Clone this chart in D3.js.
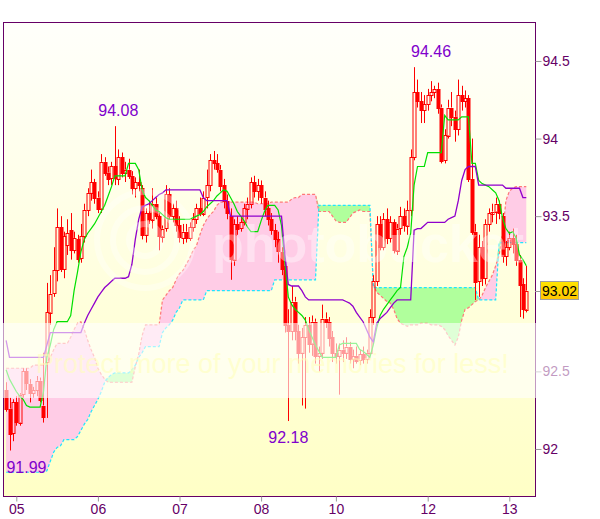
<!DOCTYPE html>
<html><head><meta charset="utf-8">
<script src="https://cdn.jsdelivr.net/npm/d3@7"></script>
<style>html,body{margin:0;padding:0;background:#fff;}svg{display:block;}</style>
</head><body><svg id="c" width="600" height="519"></svg>
<script>
// ---- data ----
const dateLabels = ["05","06","07","08","10","12","13"];
const dateIdx = [3,27,51,75,97,124,148];
const yTicks = [92, 92.5, 93.5, 94, 94.5];
const lastPrice = 93.02;
const annIdx = [6, 33, 83, 125];
const annVal = [91.99, 94.08, 92.18, 94.46];
const annType = ["low","high","low","high"];

const open = [92.38,92.26,92.10,92.30,92.17,92.35,92.50,92.42,92.36,92.38,92.44,92.28,92.56,92.88,93.00,93.15,93.43,93.16,93.31,93.41,
93.28,93.35,93.23,93.37,93.54,93.65,93.72,93.62,93.55,93.85,93.78,93.74,93.82,93.74,93.88,93.78,93.80,93.76,93.68,93.72,
93.68,93.38,93.52,93.48,93.58,93.50,93.37,93.42,93.64,93.50,93.55,93.44,93.36,93.40,93.36,93.43,93.48,93.55,93.52,93.62,
93.70,93.86,93.84,93.80,93.70,93.60,93.50,93.22,93.45,93.42,93.46,93.55,93.58,93.72,93.66,93.70,93.62,93.55,93.48,93.41,
93.35,93.27,93.18,92.80,92.76,92.95,92.76,92.62,92.72,92.80,92.68,92.82,92.60,92.62,92.84,92.82,92.72,92.62,92.60,92.64,
92.62,92.66,92.58,92.60,92.57,92.61,92.58,92.62,92.85,93.08,93.45,93.30,93.48,93.36,93.46,93.28,93.42,93.50,93.44,93.54,
93.88,94.30,94.24,94.18,94.22,94.28,94.30,94.32,94.20,93.86,94.02,94.20,94.14,94.06,94.28,94.24,94.26,93.74,93.40,93.08,
93.30,93.10,93.45,93.52,93.53,93.58,93.50,93.24,93.30,93.36,93.32,93.22,93.06,92.90];
const high = [92.43,92.33,92.32,92.34,92.36,92.52,92.52,92.45,92.40,92.47,92.46,92.62,93.07,93.12,93.30,93.55,93.50,93.40,93.48,93.52,
93.40,93.38,93.45,93.58,93.68,93.80,93.74,93.66,93.90,93.88,93.82,93.85,94.08,93.93,93.91,93.85,93.87,93.79,93.75,93.80,
93.70,93.55,93.60,93.68,93.62,93.52,93.44,93.70,93.68,93.58,93.60,93.50,93.45,93.45,93.46,93.52,93.58,93.62,93.66,93.80,
93.90,93.92,93.90,93.83,93.74,93.64,93.55,93.48,93.50,93.50,93.58,93.62,93.75,93.76,93.74,93.73,93.66,93.60,93.52,93.45,
93.40,93.30,93.22,92.90,93.05,92.98,92.80,92.78,92.85,92.85,92.86,92.84,92.66,92.93,92.88,92.85,92.76,92.68,92.68,92.70,
92.72,92.69,92.64,92.66,92.64,92.66,92.64,92.90,93.12,93.50,93.50,93.52,93.55,93.50,93.48,93.45,93.56,93.55,93.60,93.93,
94.46,94.38,94.30,94.28,94.32,94.37,94.34,94.36,94.22,94.06,94.25,94.30,94.18,94.38,94.34,94.31,94.28,94.00,93.45,93.38,
93.34,93.48,93.55,93.58,93.62,93.60,93.52,93.34,93.40,93.42,93.38,93.25,93.10,93.18];
const low = [92.24,91.99,92.05,92.15,92.15,92.33,92.38,92.30,92.33,92.34,92.30,92.17,92.20,92.80,92.98,93.08,93.14,93.10,93.25,93.22,
93.26,93.20,93.20,93.33,93.50,93.60,93.58,93.52,93.52,93.76,93.70,93.70,93.70,93.70,93.75,93.72,93.74,93.64,93.62,93.66,
93.35,93.33,93.45,93.42,93.48,93.28,93.33,93.40,93.48,93.46,93.40,93.33,93.32,93.33,93.34,93.40,93.45,93.50,93.50,93.55,
93.66,93.80,93.78,93.66,93.55,93.48,93.09,93.18,93.38,93.40,93.44,93.48,93.55,93.62,93.60,93.58,93.50,93.44,93.38,93.30,
93.20,93.12,92.75,92.18,92.70,92.70,92.55,92.28,92.26,92.62,92.60,92.55,92.50,92.58,92.78,92.66,92.56,92.55,92.35,92.56,
92.58,92.55,92.52,92.55,92.54,92.55,92.55,92.60,92.80,93.05,93.28,93.28,93.32,93.33,93.26,93.25,93.38,93.40,93.38,93.50,
93.86,94.20,94.10,94.10,94.18,94.24,94.26,94.16,93.84,93.84,94.00,94.08,93.98,94.02,94.18,94.20,93.72,93.38,92.96,92.98,
93.05,93.06,93.40,93.46,93.45,93.48,93.20,93.18,93.28,93.26,93.18,92.85,92.84,92.88];
const close = [92.26,92.10,92.30,92.17,92.35,92.50,92.42,92.36,92.38,92.44,92.32,92.21,92.88,93.00,93.15,93.43,93.16,93.37,93.39,93.28,
93.36,93.22,93.37,93.54,93.65,93.72,93.62,93.55,93.85,93.78,93.74,93.82,93.74,93.88,93.78,93.80,93.76,93.68,93.72,93.70,
93.38,93.52,93.48,93.58,93.50,93.37,93.42,93.64,93.50,93.55,93.44,93.36,93.40,93.36,93.43,93.48,93.55,93.52,93.62,93.70,
93.86,93.84,93.80,93.70,93.60,93.52,93.22,93.45,93.42,93.46,93.55,93.58,93.72,93.66,93.70,93.62,93.55,93.48,93.41,93.35,
93.27,93.16,92.80,92.76,92.95,92.76,92.62,92.72,92.80,92.68,92.82,92.60,92.62,92.84,92.82,92.72,92.62,92.60,92.64,92.62,
92.66,92.58,92.60,92.57,92.61,92.58,92.62,92.85,93.08,93.45,93.30,93.48,93.36,93.46,93.28,93.42,93.50,93.44,93.54,93.88,
94.30,94.24,94.18,94.22,94.28,94.30,94.32,94.20,93.86,94.02,94.20,94.14,94.06,94.28,94.24,94.26,93.74,93.40,93.08,93.30,
93.10,93.45,93.52,93.53,93.58,93.52,93.24,93.30,93.36,93.32,93.22,93.06,92.90,93.02];

const tenkan = [92.51,92.45,92.41,92.37,92.34,92.32,92.28,92.27,92.27,92.27,92.27,92.37,92.59,92.67,92.77,92.82,92.82,92.82,92.82,92.86,
93.02,93.14,93.27,93.35,93.39,93.42,93.45,93.49,93.53,93.57,93.63,93.69,93.76,93.76,93.76,93.76,93.84,93.84,93.84,93.80,
93.67,93.62,93.60,93.57,93.54,93.53,93.51,93.49,93.48,93.48,93.48,93.48,93.48,93.48,93.48,93.49,93.50,93.51,93.53,93.56,
93.58,93.60,93.63,93.65,93.67,93.66,93.62,93.58,93.53,93.50,93.47,93.43,93.40,93.40,93.40,93.47,93.53,93.57,93.57,93.57,
93.54,93.44,93.20,92.98,92.93,92.90,92.88,92.86,92.83,92.77,92.72,92.67,92.63,92.59,92.59,92.59,92.59,92.59,92.67,92.68,
92.68,92.68,92.68,92.68,92.64,92.63,92.61,92.59,92.67,92.78,92.86,92.90,92.93,92.96,92.99,93.02,93.04,93.24,93.30,93.39,
93.70,93.82,93.82,93.82,93.91,93.91,93.91,93.91,93.91,94.15,94.12,94.12,94.12,94.12,94.14,94.14,94.14,93.84,93.84,93.73,
93.71,93.70,93.69,93.67,93.65,93.60,93.49,93.42,93.39,93.40,93.36,93.25,93.22,93.18];
const kijun = [92.70,92.59,92.59,92.59,92.59,92.59,92.59,92.59,92.59,92.59,92.59,92.59,92.67,92.75,92.75,92.75,92.75,92.75,92.75,92.75,
92.75,92.75,92.75,92.81,92.86,92.90,92.94,92.98,93.01,93.04,93.06,93.08,93.10,93.10,93.10,93.10,93.11,93.19,93.35,93.48,
93.56,93.57,93.58,93.60,93.62,93.64,93.65,93.67,93.67,93.67,93.67,93.67,93.67,93.67,93.67,93.67,93.67,93.67,93.62,93.60,
93.60,93.60,93.60,93.60,93.60,93.60,93.50,93.50,93.50,93.50,93.50,93.50,93.50,93.50,93.50,93.50,93.50,93.50,93.50,93.50,
93.50,93.50,93.25,93.06,93.05,93.05,93.05,93.02,92.98,92.96,92.96,92.96,92.96,92.96,92.96,92.96,92.96,92.96,92.96,92.96,
92.95,92.94,92.92,92.88,92.85,92.82,92.77,92.72,92.69,92.81,92.84,92.86,92.88,92.91,92.94,92.96,92.96,92.96,92.96,92.96,
93.41,93.42,93.42,93.44,93.46,93.46,93.46,93.46,93.46,93.46,93.48,93.49,93.50,93.60,93.73,93.80,93.82,93.82,93.82,93.70,
93.70,93.70,93.70,93.70,93.70,93.70,93.70,93.68,93.68,93.68,93.68,93.68,93.62,93.62];
const spanA = [92.52,92.52,92.52,92.52,92.52,92.52,92.52,92.52,92.54,92.54,92.54,92.54,92.56,92.59,92.64,92.68,92.68,92.68,92.68,92.72,
92.77,92.81,92.82,92.77,92.70,92.64,92.59,92.52,92.48,92.45,92.43,92.43,92.43,92.43,92.43,92.43,92.43,92.43,92.53,92.61,
92.73,92.80,92.80,92.80,92.80,92.80,92.96,92.99,93.02,93.04,93.09,93.13,93.15,93.19,93.23,93.28,93.31,93.38,93.44,93.48,
93.51,93.53,93.57,93.59,93.59,93.59,93.59,93.59,93.59,93.59,93.59,93.59,93.59,93.59,93.58,93.58,93.58,93.58,93.59,93.59,
93.59,93.59,93.59,93.59,93.61,93.62,93.62,93.64,93.64,93.64,93.64,93.64,93.53,93.53,93.53,93.53,93.50,93.47,93.46,93.46,
93.46,93.49,93.52,93.53,93.54,93.53,93.53,93.53,93.06,93.01,92.99,92.97,92.95,92.94,92.90,92.84,92.81,92.80,92.79,92.80,
92.80,92.80,92.81,92.81,92.81,92.80,92.80,92.80,92.79,92.77,92.73,92.70,92.67,92.72,92.83,92.90,92.91,92.93,92.95,92.96,
92.99,93.04,93.08,93.12,93.18,93.25,93.38,93.60,93.66,93.68,93.69,93.69,93.69,93.69];
const spanB = [91.85,91.85,91.85,91.85,91.85,91.85,91.85,91.85,91.85,91.85,91.85,91.85,91.86,91.92,91.98,92.01,92.02,92.06,92.06,92.06,
92.06,92.08,92.12,92.16,92.19,92.24,92.28,92.32,92.37,92.43,92.46,92.48,92.49,92.49,92.49,92.49,92.49,92.51,92.54,92.59,
92.62,92.66,92.66,92.66,92.66,92.66,92.75,92.78,92.80,92.83,92.88,92.91,92.96,92.96,92.96,92.96,92.96,92.96,92.96,93.02,
93.02,93.02,93.02,93.02,93.02,93.02,93.02,93.02,93.02,93.02,93.02,93.02,93.02,93.02,93.02,93.02,93.02,93.02,93.02,93.09,
93.09,93.09,93.09,93.09,93.09,93.09,93.09,93.09,93.09,93.09,93.09,93.09,93.57,93.57,93.57,93.57,93.57,93.57,93.57,93.57,
93.57,93.57,93.57,93.57,93.57,93.57,93.57,93.57,93.04,93.04,93.04,93.04,93.04,93.04,93.04,93.04,93.04,93.04,93.04,93.04,
93.04,93.04,93.04,93.04,93.04,93.04,93.04,93.04,93.04,93.04,93.04,93.04,93.04,93.04,93.04,93.04,93.04,93.04,93.04,92.96,
92.96,92.96,92.96,92.96,92.96,93.33,93.33,93.33,93.33,93.33,93.33,93.33,93.33,93.33];

// ---- chart ----
const svg = d3.select("#c");
const L = 3, R = 535, T = 22, B = 496;
const FONT = "'Liberation Sans', Arial, sans-serif";
const n = close.length;
const x = d3.scaleLinear().domain([0, n - 1]).range([6.1, 526.3]);
const y = d3.scaleLinear().domain([91.697, 94.751]).range([B, T]);
const ids = d3.range(n);

const defs = svg.append("defs");
const bg = defs.append("linearGradient").attr("id", "bg").attr("x1", 0).attr("y1", 0).attr("x2", 0).attr("y2", 1);
bg.append("stop").attr("offset", "0%").attr("stop-color", "#fffffb");
bg.append("stop").attr("offset", "100%").attr("stop-color", "#ffffc6");
const gold = defs.append("linearGradient").attr("id", "gold").attr("x1", 0).attr("y1", 0).attr("x2", 0).attr("y2", 1);
gold.append("stop").attr("offset", "0%").attr("stop-color", "#ffe600");
gold.append("stop").attr("offset", "100%").attr("stop-color", "#ffc400");
defs.append("clipPath").attr("id", "clip").append("rect").attr("x", L).attr("y", T).attr("width", R - L).attr("height", B - T);

svg.append("rect").attr("x", L).attr("y", T).attr("width", R - L).attr("height", B - T).attr("fill", "url(#bg)");

const g = svg.append("g").attr("clip-path", "url(#clip)");

// cloud
const cloudTop = i => y(Math.max(spanA[i], spanB[i]));
g.append("path").datum(ids).attr("fill", "#ffcce6")
  .attr("d", d3.area().x(i => x(i)).y0(i => y(spanB[i])).y1(cloudTop));
g.append("path").datum(ids).attr("fill", "#b0ff9c")
  .attr("d", d3.area().x(i => x(i)).y0(i => y(spanA[i])).y1(cloudTop));
g.append("path").datum(ids).attr("fill", "none").attr("stroke", "#ff7878").attr("stroke-width", 1.2).attr("stroke-dasharray", "3,2")
  .attr("d", d3.line().x(i => x(i)).y(i => y(spanA[i])));
g.append("path").datum(ids).attr("fill", "none").attr("stroke", "#1ee6ff").attr("stroke-width", 1.2).attr("stroke-dasharray", "3,2")
  .attr("d", d3.line().x(i => x(i)).y(i => y(spanB[i])));

// candles
const cg = g.append("g");
ids.forEach(i => {
  const cx = Math.round(x(i));
  const up = close[i] >= open[i];
  const bt = y(Math.max(open[i], close[i])), bb = y(Math.min(open[i], close[i]));
  cg.append("line").attr("x1", cx + 0.5).attr("x2", cx + 0.5).attr("y1", y(high[i])).attr("y2", bt).attr("stroke", "#ff0000");
  cg.append("line").attr("x1", cx + 0.5).attr("x2", cx + 0.5).attr("y1", bb).attr("y2", y(low[i])).attr("stroke", "#ff0000");
  cg.append("rect").attr("x", cx - 1).attr("y", Math.round(bt) + 0.5).attr("width", 3)
    .attr("height", Math.max(1, Math.round(bb - bt)))
    .attr("fill", up ? "none" : "#ff0000").attr("stroke", "#ff0000").attr("stroke-width", 1);
});

// tenkan / kijun
g.append("path").datum(ids).attr("fill", "none").attr("stroke", "#00e000").attr("stroke-width", 1.2)
  .attr("d", d3.line().x(i => x(i)).y(i => y(tenkan[i])));
g.append("path").datum(ids).attr("fill", "none").attr("stroke", "#9000cc").attr("stroke-width", 1.3)
  .attr("d", d3.line().x(i => x(i)).y(i => y(kijun[i])));

// frame
svg.append("rect").attr("x", L + 0.5).attr("y", T + 0.5).attr("width", R - L).attr("height", B - T)
  .attr("fill", "none").attr("stroke", "#660066").attr("stroke-width", 1);

// axes
const ya = svg.append("g").attr("transform", `translate(${R + 0.5},0)`)
  .call(d3.axisRight(y).tickValues(yTicks).tickSize(6).tickPadding(1).tickFormat(d => String(d)));
const xa = svg.append("g").attr("transform", `translate(0,${B + 0.5})`)
  .call(d3.axisBottom(x).tickValues(dateIdx).tickSize(5).tickPadding(3).tickFormat((d, k) => dateLabels[k]));
[ya, xa].forEach(a => {
  a.select(".domain").remove();
  a.selectAll(".tick line").attr("stroke", "#999999");
  a.selectAll(".tick text").attr("fill", "#660066").style("font-family", FONT).style("font-size", "14px");
});

// last price box
const yp = y(lastPrice);
svg.append("line").attr("x1", R).attr("x2", R + 6).attr("y1", Math.round(yp) + 0.5).attr("y2", Math.round(yp) + 0.5).attr("stroke", "#999");
svg.append("rect").attr("x", R + 5.5).attr("y", Math.round(yp) - 9.5).attr("width", 38).attr("height", 18)
  .attr("fill", "url(#gold)").attr("stroke", "#a0a0a0");
svg.append("text").attr("x", R + 24.5).attr("y", Math.round(yp) + 5).attr("text-anchor", "middle")
  .style("font-family", FONT).style("font-size", "14px").attr("fill", "#000").text(lastPrice.toFixed(2));

// high/low annotations
annIdx.forEach((k, j) => {
  const v = annVal[j];
  svg.append("text").attr("x", x(k)).attr("y", annType[j] === "high" ? y(v) - 10 : y(v) + 22)
    .attr("text-anchor", "middle").attr("fill", "#8000cc")
    .style("font-family", FONT).style("font-size", "16px").text(v.toFixed(2));
});

// watermark band and text (part of the reference picture)
svg.append("rect").attr("x", 0).attr("y", 323).attr("width", 600).attr("height", 75).attr("fill", "#ffffff").attr("opacity", 0.6);
const wm = svg.append("g").attr("clip-path", "url(#clip)");
[16, 32, 48].forEach(r => wm.append("circle").attr("cx", 145).attr("cy", 240).attr("r", r)
  .attr("fill", "none").attr("stroke", "#ffffff").attr("stroke-width", 6).attr("opacity", 0.35));
wm.append("text").attr("x", 212).attr("y", 262).attr("fill", "#ffffff").attr("opacity", 0.4)
  .style("font-family", FONT).style("font-weight", "bold").style("font-size", "52px").text("photobucket");
wm.append("text").attr("x", 36).attr("y", 373).attr("fill", "#ffffb8").attr("opacity", 0.55)
  .style("font-family", FONT).style("font-size", "27px").text("Protect more of your memories for less!");
</script>
</body></html>
